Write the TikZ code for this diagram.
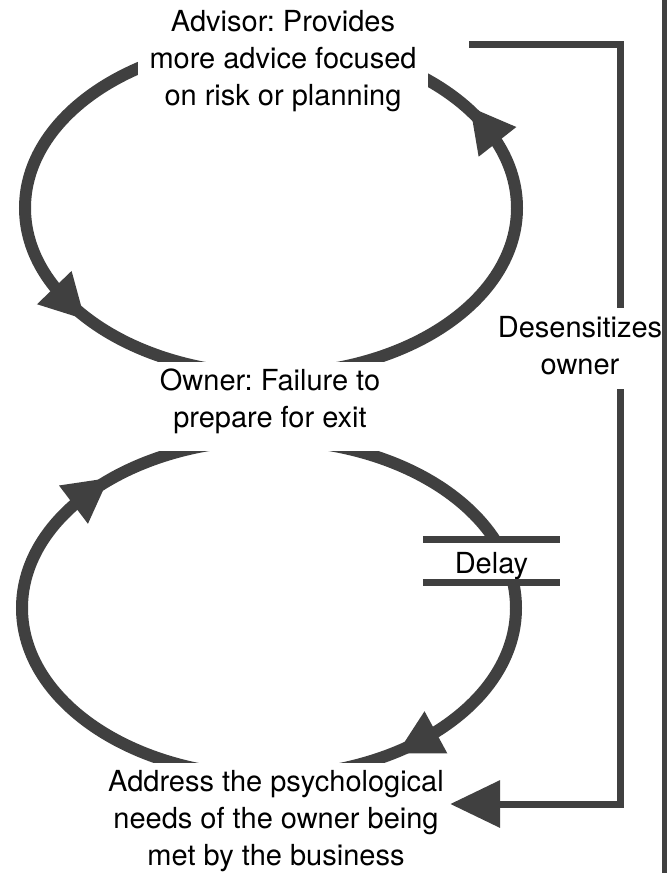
\documentclass[tikz,border=0pt]{standalone}
\usepackage{fontspec}
\setmainfont{TeX Gyre Heros}
\usetikzlibrary{arrows.meta}
\definecolor{ink}{HTML}{404040}
\frenchspacing
\newcommand\loophead[6]{%
  \pgfmathsetmacro\lhx{#1+#3*cos(#5)}%
  \pgfmathsetmacro\lhy{#2+#4*sin(#5)}%
  \pgfmathsetmacro\lhr{-atan2((#6)*#4*cos(#5),-1*(#6)*#3*sin(#5))}%
  \fill[ink,shift={(\lhx,\lhy)},rotate=\lhr] (29,0) -- (-15,24) -- (-15,-24) -- cycle;}
\begin{document}
\begin{tikzpicture}[x=1pt,y=-1pt,
  loopline/.style={draw=ink,line width=12pt},
  mask/.style={fill=white,inner sep=0pt,align=center,text=black,font=\fontsize{29}{37}\selectfont},
  feedline/.style={draw=ink,line width=7pt}]
\useasboundingbox (0,0) rectangle (672,873);
% loops
\draw[loopline] (271,208) ellipse [x radius=246pt,y radius=166pt];
\draw[loopline] (269,608) ellipse [x radius=247pt,y radius=168pt];
% arrowheads on loops
\loophead{271}{208}{246}{166}{147}{-1}
\loophead{271}{208}{246}{166}{-28}{-1}
\loophead{269}{608}{247}{168}{222}{1}
\loophead{269}{608}{247}{168}{51.5}{1}
% variable nodes
\node[mask,anchor=north,minimum width=290pt] (advisor) at (283,0)
  {\rule{0pt}{31pt}Advisor: Provides\\more advice focused\\on risk or planning\rule[-12pt]{0pt}{12pt}};
\node[mask,anchor=north,minimum width=240pt] (owner) at (270,362)
  {\rule{0pt}{28pt}Owner: Failure to\\prepare for exit\rule[-24pt]{0pt}{24pt}};
\node[mask,anchor=north,minimum width=348pt] (addr) at (276,763)
  {\rule{0pt}{28pt}Address the psychological\\needs of the owner being\\met by the business\rule[-10pt]{0pt}{10pt}};
\node[mask,anchor=north,minimum width=137pt] (delay) at (491.5,539.5)
  {\rule{0pt}{33.5pt}Delay\rule[-9.5pt]{0pt}{9.5pt}};
\draw[feedline] (delay.north west) -- (delay.north east)
                (delay.south west) -- (delay.south east);
% feedback link
\coordinate (fbstart) at (469,44.5);
\coordinate (fbturn) at (620,804);
\draw[feedline,-{Triangle[length=50pt,width=46pt]}]
  (fbstart) -- (fbstart -| fbturn) -- (fbturn) -- (fbturn -| addr.east);
\node[mask,anchor=north] (desens) at (580,308)
  {\rule{0pt}{29pt}Desensitizes\\owner\rule[-15pt]{0pt}{15pt}};
% right border
\draw[draw=ink,line width=5pt] (664.5,0) -- (664.5,873);
\end{tikzpicture}
\end{document}
